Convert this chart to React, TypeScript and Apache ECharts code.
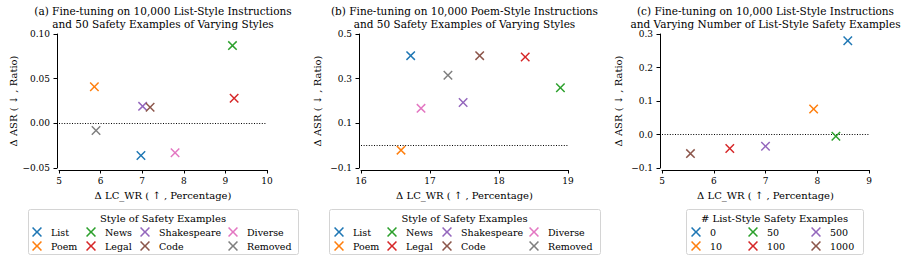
import React, { useEffect, useRef } from 'react';
import * as echarts from 'echarts';

// ---- data ----
const STYLE_NAMES = ['List', 'Poem', 'News', 'Legal', 'Shakespeare', 'Code', 'Diverse', 'Removed'];
const COUNT_NAMES = ['0', '10', '50', '100', '500', '1000'];

const A_X = [6.97, 5.85, 9.17, 9.21, 7.01, 7.19, 7.79, 5.89];
const A_Y = [-0.036, 0.041, 0.087, 0.028, 0.019, 0.018, -0.033, -0.008];

const B_X = [16.72, 16.58, 18.89, 18.38, 17.48, 17.72, 16.87, 17.26];
const B_Y = [0.403, -0.02, 0.259, 0.397, 0.193, 0.403, 0.167, 0.315];

const C_X = [8.59, 7.93, 8.36, 6.31, 7.0, 5.55];
const C_Y = [0.28, 0.076, -0.005, -0.042, -0.035, -0.057];

const TITLES = [
  '(a) Fine-tuning on 10,000 List-Style Instructions\nand 50 Safety Examples of Varying Styles',
  '(b) Fine-tuning on 10,000 Poem-Style Instructions\nand 50 Safety Examples of Varying Styles',
  '(c) Fine-tuning on 10,000 List-Style Instructions\nand Varying Number of List-Style Safety Examples',
];
const LEGEND_TITLES = ['Style of Safety Examples', 'Style of Safety Examples', '# List-Style Safety Examples'];
const X_NAME = 'Δ LC_WR ( ↑ , Percentage)';
const Y_NAME = 'Δ ASR ( ↓ , Ratio)';

// ---- styles ----
const COLORS = ['#1f77b4', '#ff7f0e', '#2ca02c', '#d62728', '#9467bd', '#8c564b', '#e377c2', '#7f7f7f'];
const FONT = '"DejaVu Serif", "Liberation Serif", serif';
const XMARK = 'path://M0,1.1L1.1,0L5,3.9L8.9,0L10,1.1L6.1,5L10,8.9L8.9,10L5,6.1L1.1,10L0,8.9L3.9,5Z';

const PANELS = [
  {
    left: 59, width: 208, names: STYLE_NAMES, xs: A_X, ys: A_Y,
    xMin: 5, xMax: 10, xInt: 1, yMin: -0.05, yMax: 0.1, yInt: 0.05, yDec: 2,
    legendLefts: [32, 86, 140, 228], box: [28, 298],
  },
  {
    left: 361, width: 207, names: STYLE_NAMES, xs: B_X, ys: B_Y,
    xMin: 16, xMax: 19, xInt: 1, yMin: -0.1, yMax: 0.5, yInt: 0.2, yDec: 1,
    legendLefts: [334, 387, 442, 529], box: [329, 600],
  },
  {
    left: 662, width: 207, names: COUNT_NAMES, xs: C_X, ys: C_Y,
    xMin: 5, xMax: 9, xInt: 1, yMin: -0.1, yMax: 0.3, yInt: 0.1, yDec: 1,
    legendLefts: [691, 748, 811], box: [686, 863],
  },
];

const fmt = (dec: number) => (v: number) => {
  const s = (Math.abs(v) < 1e-9 ? 0 : v).toFixed(dec);
  return s.replace('-', '\u2212');
};

export default function App() {
  const ref = useRef<HTMLDivElement>(null);

  useEffect(() => {
    const chart = echarts.init(ref.current!, null, { renderer: 'svg' });

    const grid: any[] = [];
    const xAxis: any[] = [];
    const yAxis: any[] = [];
    const series: any[] = [];
    const legend: any[] = [];
    const graphic: any[] = [];

    PANELS.forEach((p, gi) => {
      grid.push({ left: p.left, width: p.width, top: 34, height: 134 });
      const axisCommon = {
        type: 'value',
        gridIndex: gi,
        offset: 2,
        axisLine: { show: true, onZero: false, lineStyle: { color: '#000', width: 1 } },
        axisTick: { show: true, length: 3.5, lineStyle: { color: '#000', width: 1 } },
        splitLine: { show: false },
        nameLocation: 'middle',
        nameTextStyle: { fontFamily: FONT, fontSize: 10, color: '#000' },
      };
      xAxis.push({
        ...axisCommon,
        min: p.xMin, max: p.xMax, interval: p.xInt,
        name: X_NAME, nameGap: 20,
        axisLabel: { margin: 6, fontFamily: FONT, fontSize: 9, color: '#000', formatter: fmt(0) },
      });
      yAxis.push({
        ...axisCommon,
        min: p.yMin, max: p.yMax, interval: p.yInt,
        name: Y_NAME, nameGap: 37,
        axisLabel: { margin: 7, fontFamily: FONT, fontSize: 9, color: '#000', formatter: fmt(p.yDec) },
      });

      p.names.forEach((name, i) => {
        const s: any = {
          type: 'scatter',
          name,
          xAxisIndex: gi,
          yAxisIndex: gi,
          symbol: XMARK,
          symbolSize: 9.5,
          itemStyle: { color: COLORS[i], opacity: 1 },
          data: [[p.xs[i], p.ys[i]]],
          z: 3,
        };
        if (i === 0) {
          s.markLine = {
            silent: true,
            symbol: 'none',
            label: { show: false },
            lineStyle: { color: '#000', type: [1, 1.6], width: 1 },
            data: [{ yAxis: 0 }],
            z: 1,
          };
        }
        series.push(s);
      });

      for (let c = 0; c < p.legendLefts.length; c++) {
        legend.push({
          left: p.legendLefts[c],
          top: 227,
          orient: 'vertical',
          padding: 0,
          itemWidth: 18,
          itemHeight: 10,
          itemGap: 4,
          selectedMode: false,
          z: 10,
          data: p.names.slice(c * 2, c * 2 + 2),
          textStyle: { fontFamily: FONT, fontSize: 9.5, color: '#000' },
        });
      }

      const cx = p.left + p.width / 2;
      graphic.push({
        type: 'text',
        z: 5,
        style: {
          text: TITLES[gi], x: cx, y: 5,
          font: `10.5px ${FONT}`, fill: '#000',
          textAlign: 'center', align: 'center',
          textVerticalAlign: 'top', verticalAlign: 'top',
          lineHeight: 12.5,
        },
      });
      graphic.push({
        type: 'rect',
        z: 0,
        shape: { x: p.box[0] + 0.5, y: 209.5, width: p.box[1] - p.box[0], height: 45, r: 2 },
        style: { fill: '#fff', stroke: '#d4d4d4', lineWidth: 1 },
      });
      graphic.push({
        type: 'text',
        z: 5,
        style: {
          text: LEGEND_TITLES[gi], x: (p.box[0] + p.box[1]) / 2, y: 218,
          font: `10px ${FONT}`, fill: '#000',
          textAlign: 'center', align: 'center',
          textVerticalAlign: 'middle', verticalAlign: 'middle',
        },
      });
    });

    chart.setOption({
      animation: false,
      backgroundColor: '#fff',
      grid,
      xAxis,
      yAxis,
      series,
      legend,
      graphic,
    });

    return () => chart.dispose();
  }, []);

  return (
    <div
      ref={ref}
      style={{ position: 'fixed', left: 0, top: 0, width: 913, height: 262 }}
    />
  );
}
